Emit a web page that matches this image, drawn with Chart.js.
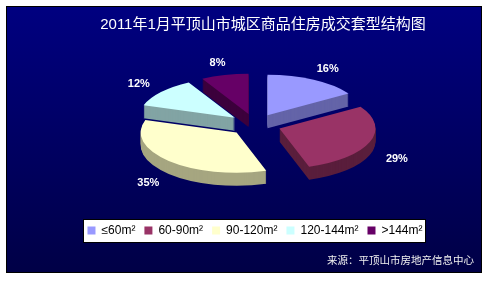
<!DOCTYPE html>
<html>
<head>
<meta charset="utf-8">
<script src="https://cdn.jsdelivr.net/npm/chart.js@4"></script>
<style>
body{margin:0;background:#fff;}
</style>
</head>
<body>
<canvas id="pie" width="488" height="281"></canvas>
<script>
// chart data
const labels = ["≤60m²", "60-90m²", "90-120m²", "120-144m²", ">144m²"];
const shares = [16, 29, 35, 12, 8];
const titleText = "2011年1月平顶山市城区商品住房成交套型结构图";
const sourceText = "来源：平顶山市房地产信息中心";

// look
const colors = ["#9999FF", "#993366", "#FFFFCC", "#CCFFFF", "#660066"];
const sideColors = ["#6464A8", "#5A1E3C", "#A6A680", "#82A4A4", "#3C003C"];
const tilt = 0.42;    // vertical squash of the pie
const depth = 13;     // pie thickness, px
const explode = 26;   // how far each slice is pulled out, px
const fam = "'Liberation Sans', 'Noto Sans CJK SC'";

function mid(a){ return (a.startAngle + a.endAngle) / 2; }

const frame = {
  id: "frame",
  afterLayout(chart){
    // title sits a bit right of centre in the original
    chart.titleBlock.left += 16;
  },
  beforeDraw(chart){
    const ctx = chart.ctx;
    ctx.save();
    ctx.fillStyle = "#fff";
    ctx.fillRect(0, 0, chart.width, chart.height);
    let g = ctx.createLinearGradient(0, 6, 0, 273);
    g.addColorStop(0, "#000080");
    g.addColorStop(1, "#000046");
    ctx.fillStyle = g;
    ctx.fillRect(6, 6, 476, 267);
    ctx.strokeStyle = "#000";
    ctx.lineWidth = 1;
    ctx.strokeRect(6.5, 6.5, 475, 266);

    // white box behind the legend
    const hb = chart.legend.legendHitBoxes;
    if(hb && hb.length){
      const first = hb[0], last = hb[hb.length-1];
      const x0 = Math.round(first.left - 4), x1 = Math.round(last.left + last.width + 3);
      const y0 = Math.round(first.top - 5);
      ctx.fillStyle = "#fff";
      ctx.fillRect(x0, y0, x1 - x0, 24);
      ctx.strokeStyle = "#000";
      ctx.strokeRect(x0 + 0.5, y0 + 0.5, x1 - x0 - 1, 23);
    }
    ctx.restore();
  }
};

const pie3d = {
  id: "pie3d",
  beforeDatasetsDraw(chart){
    const ctx = chart.ctx;
    const arcs = chart.getDatasetMeta(0).data;
    if(!arcs.length) return false;
    const cy = arcs[0].y;
    const order = arcs.map((a, i) => i).sort((a, b) => Math.sin(mid(arcs[a])) - Math.sin(mid(arcs[b])));

    ctx.save();
    ctx.translate(0, cy);
    ctx.scale(1, tilt);
    ctx.translate(0, -cy);
    order.forEach(i => {
      const a = arcs[i], h = mid(a);
      const dx = Math.cos(h) * explode, dy = Math.sin(h) * explode;
      const orig = a.options;
      a.options = Object.assign({}, orig, {backgroundColor: sideColors[i], borderColor: sideColors[i]});
      for(let d = depth; d > 0; d--){
        ctx.save();
        ctx.translate(dx, dy + d / tilt);
        a.draw(ctx);
        ctx.restore();
      }
      a.options = orig;
      ctx.save();
      ctx.translate(dx, dy);
      a.draw(ctx);
      ctx.restore();
    });
    ctx.restore();

    // percentage labels
    ctx.save();
    ctx.fillStyle = "#fff";
    ctx.font = "bold 11px 'Liberation Sans'";
    ctx.textAlign = "center";
    ctx.textBaseline = "middle";
    arcs.forEach((a, i) => {
      const h = mid(a), r = a.outerRadius * 1.3 + explode;
      const x = a.x + Math.cos(h) * r;
      let y = cy + Math.sin(h) * r * tilt;
      if(Math.sin(h) > 0) y += depth;
      ctx.fillText(shares[i] + "%", x, y);
    });
    ctx.restore();
    return false;
  }
};

new Chart(document.getElementById("pie"), {
  type: "pie",
  data: {
    labels: labels,
    datasets: [{
      data: shares,
      backgroundColor: colors,
      borderWidth: 0
    }]
  },
  options: {
    responsive: false,
    animation: false,
    events: [],
    rotation: 0,
    radius: 96,
    layout: {padding: {left: 36, right: 14, top: 6, bottom: 8}},
    plugins: {
      tooltip: {enabled: false},
      title: {
        display: true,
        text: titleText,
        color: "#fff",
        font: {family: fam, size: 15, weight: "normal"},
        padding: {top: 10, bottom: 0}
      },
      subtitle: {
        display: true,
        position: "bottom",
        align: "end",
        text: sourceText,
        color: "#F0F0F0",
        font: {family: fam, size: 10.5, weight: "normal"},
        padding: {top: 8, bottom: 6}
      },
      legend: {
        position: "bottom",
        labels: {
          color: "#000",
          boxWidth: 8,
          boxHeight: 8,
          padding: 9,
          font: {family: fam, size: 12}
        }
      }
    }
  },
  plugins: [frame, pie3d]
});
</script>
</body>
</html>
